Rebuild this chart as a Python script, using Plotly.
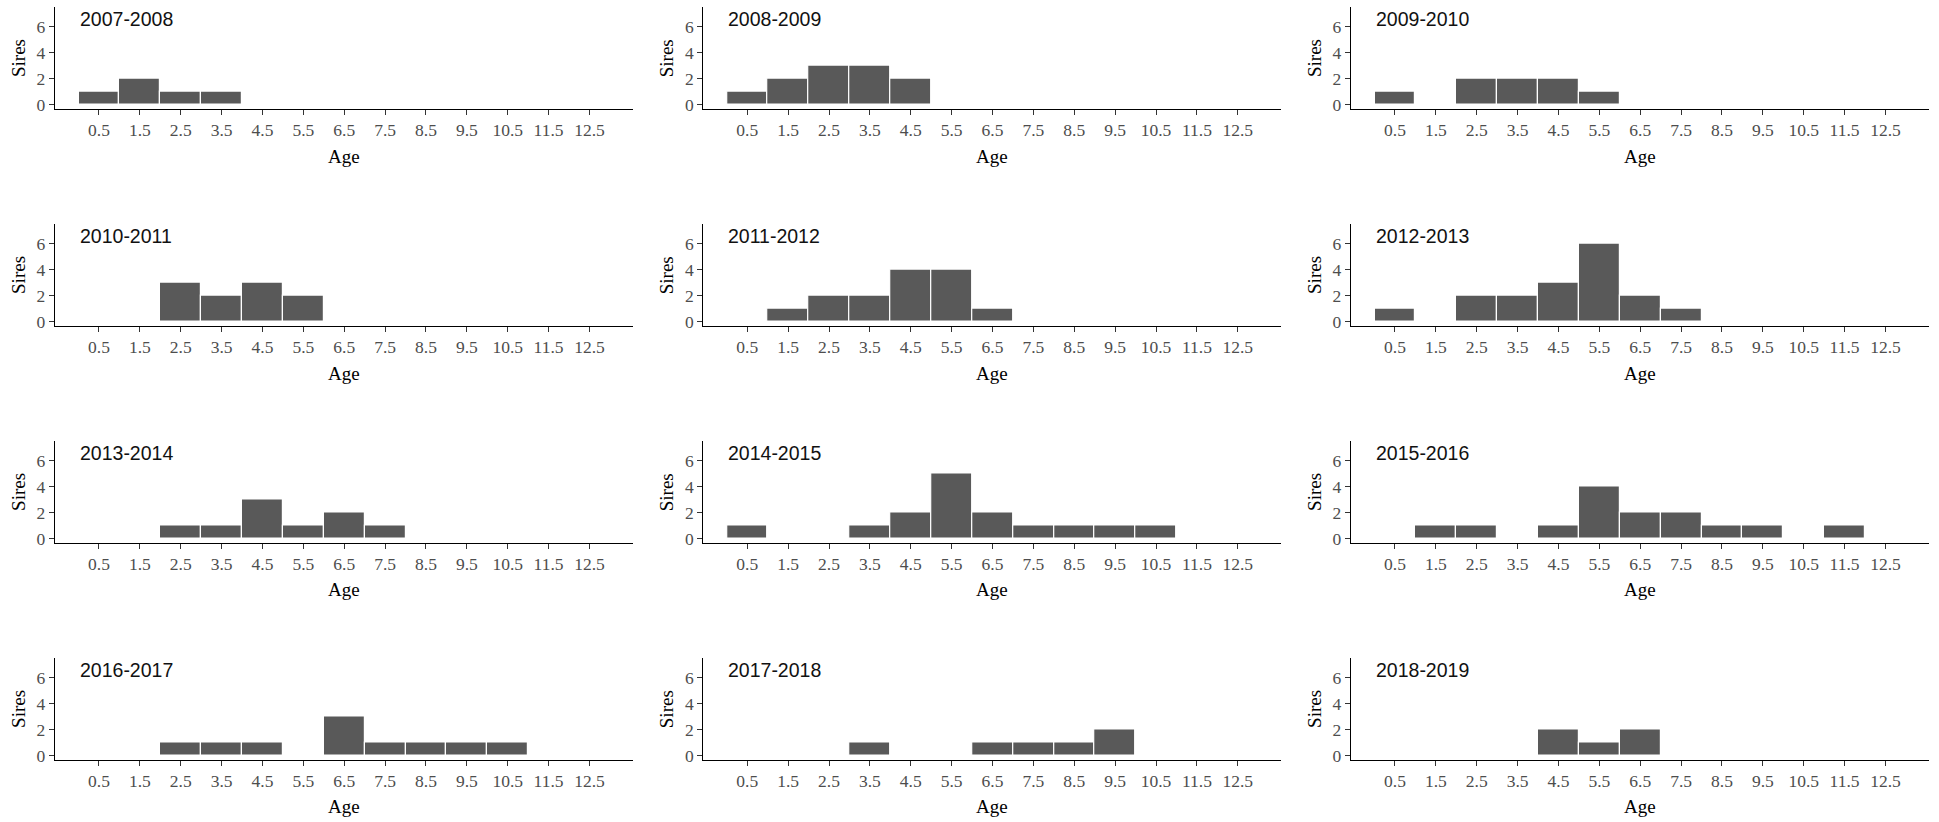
import plotly.graph_objects as go

# ---- data ----
ages = [0.5, 1.5, 2.5, 3.5, 4.5, 5.5, 6.5, 7.5, 8.5, 9.5, 10.5, 11.5, 12.5]
age_labels = ["0.5", "1.5", "2.5", "3.5", "4.5", "5.5", "6.5", "7.5", "8.5", "9.5", "10.5", "11.5", "12.5"]
seasons = ["2007-2008", "2008-2009", "2009-2010", "2010-2011", "2011-2012", "2012-2013",
           "2013-2014", "2014-2015", "2015-2016", "2016-2017", "2017-2018", "2018-2019"]

sires_2007_2008 = [1, 2, 1, 1, 0, 0, 0, 0, 0, 0, 0, 0, 0]
sires_2008_2009 = [1, 2, 3, 3, 2, 0, 0, 0, 0, 0, 0, 0, 0]
sires_2009_2010 = [1, 0, 2, 2, 2, 1, 0, 0, 0, 0, 0, 0, 0]
sires_2010_2011 = [0, 0, 3, 2, 3, 2, 0, 0, 0, 0, 0, 0, 0]
sires_2011_2012 = [0, 1, 2, 2, 4, 4, 1, 0, 0, 0, 0, 0, 0]
sires_2012_2013 = [1, 0, 2, 2, 3, 6, 2, 1, 0, 0, 0, 0, 0]
sires_2013_2014 = [0, 0, 1, 1, 3, 1, 2, 1, 0, 0, 0, 0, 0]
sires_2014_2015 = [1, 0, 0, 1, 2, 5, 2, 1, 1, 1, 1, 0, 0]
sires_2015_2016 = [0, 1, 1, 0, 1, 4, 2, 2, 1, 1, 0, 1, 0]
sires_2016_2017 = [0, 0, 1, 1, 1, 0, 3, 1, 1, 1, 1, 0, 0]
sires_2017_2018 = [0, 0, 0, 1, 0, 0, 1, 1, 1, 2, 0, 0, 0]
sires_2018_2019 = [0, 0, 0, 0, 2, 1, 2, 0, 0, 0, 0, 0, 0]

counts = [sires_2007_2008, sires_2008_2009, sires_2009_2010, sires_2010_2011,
          sires_2011_2012, sires_2012_2013, sires_2013_2014, sires_2014_2015,
          sires_2015_2016, sires_2016_2017, sires_2017_2018, sires_2018_2019]

# ---- layout geometry (pixels) ----
W, H = 1939, 822
col_left = [55, 703.3, 1351]
col_width = 578
row_top0 = 6.7
row_h = 103.3
row_step = 218.3

fig = go.Figure()
layout = dict(width=W, height=H, margin=dict(l=0, r=0, t=0, b=0),
              paper_bgcolor="white", plot_bgcolor="white",
              showlegend=False, bargap=0)
annotations = []

tickfont = dict(family="Liberation Serif", size=17.5, color="#4d4d4d")
titlefont = dict(family="Liberation Serif", size=19, color="black")

for i, (season, vals) in enumerate(zip(seasons, counts)):
    r, c = divmod(i, 3)
    n = i + 1
    xa = "x" if n == 1 else f"x{n}"
    ya = "y" if n == 1 else f"y{n}"
    xkey = "xaxis" if n == 1 else f"xaxis{n}"
    ykey = "yaxis" if n == 1 else f"yaxis{n}"
    x0 = col_left[c] / W
    x1 = (col_left[c] + col_width) / W
    top = row_top0 + r * row_step
    bot = top + row_h
    y1 = 1 - top / H
    y0 = 1 - bot / H

    fig.add_trace(go.Bar(x=ages, y=vals, width=1, xaxis=xa, yaxis=ya,
                         marker=dict(color="#595959", line=dict(color="white", width=1.2)),
                         hoverinfo="x+y"))

    layout[xkey] = dict(domain=[x0, x1], anchor=ya, range=[-0.575, 13.565],
                        tickmode="array", tickvals=ages, ticktext=age_labels,
                        showline=True, linecolor="black", linewidth=1.3,
                        ticks="outside", ticklen=5, tickwidth=1.1, tickcolor="#333333",
                        showgrid=False, zeroline=False, tickfont=tickfont, fixedrange=True)
    layout[ykey] = dict(domain=[y0, y1], anchor=xa, range=[-0.36, 7.56],
                        tickmode="array", tickvals=[0, 2, 4, 6],
                        showline=True, linecolor="black", linewidth=1.3,
                        ticks="outside", ticklen=5, tickwidth=1.1, tickcolor="#333333",
                        showgrid=False, zeroline=False, tickfont=tickfont, fixedrange=True)

    # panel title
    annotations.append(dict(text=season, xref="paper", yref="paper",
                            x=(col_left[c] + 23) / W, y=1 - (top + 12) / H,
                            xanchor="left", yanchor="middle", showarrow=False,
                            font=dict(family="Liberation Sans", size=19.5, color="#111111")))
    # y title
    annotations.append(dict(text="Sires", xref="paper", yref="paper",
                            x=(col_left[c] - 36) / W, y=1 - (top + row_h / 2) / H,
                            xanchor="center", yanchor="middle", textangle=-90, showarrow=False,
                            font=titlefont))
    # x title
    annotations.append(dict(text="Age", xref="paper", yref="paper",
                            x=(col_left[c] + col_width / 2) / W, y=1 - (bot + 47) / H,
                            xanchor="center", yanchor="middle", showarrow=False,
                            font=titlefont))

layout["annotations"] = annotations
fig.update_layout(**layout)
fig.write_html("out.html", config={"displayModeBar": False},
               post_script="document.body.style.margin='0';document.body.style.overflow='hidden';")
